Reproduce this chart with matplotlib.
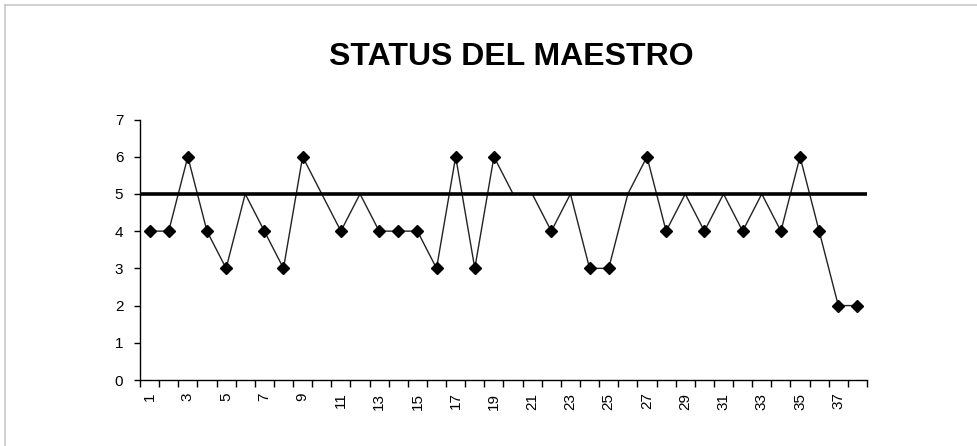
import matplotlib
matplotlib.use("Agg")
import matplotlib.pyplot as plt
from matplotlib.lines import Line2D

plt.rcParams['font.family'] = ['Liberation Sans', 'DejaVu Sans']

# Observation number and teacher status score
sessions = list(range(1, 39))
status = [4, 4, 6, 4, 3, 5, 4, 3, 6, 5, 4, 5, 4, 4, 4, 3, 6, 3, 6, 5,
          5, 4, 5, 3, 3, 5, 6, 4, 5, 4, 5, 4, 5, 4, 6, 4, 2, 2]
reference_level = 5
y_ticks = [0, 1, 2, 3, 4, 5, 6, 7]
x_tick_labels = [str(s) for s in sessions if s % 2 == 1]
title = "STATUS DEL MAESTRO"

fig = plt.figure(figsize=(9.77, 4.46), dpi=100)
fig.patch.set_facecolor('white')

# thin grey frame along the top and left edges of the chart area
fig.add_artist(Line2D([4.5 / 977, 1.0], [1 - 5 / 446, 1 - 5 / 446],
                      transform=fig.transFigure, color='#c8c8c8', lw=1.2))
fig.add_artist(Line2D([4.5 / 977, 4.5 / 977], [0.0, 1 - 5 / 446],
                      transform=fig.transFigure, color='#c8c8c8', lw=1.2))

ax = fig.add_axes([140 / 977, 1 - 380 / 446, (867 - 140) / 977, (380 - 119.5) / 446])

# markers are shown only for points off the reference level
marked = [i for i, v in enumerate(status) if v != reference_level]
ax.plot(sessions, status, color='#222222', lw=1.0, marker='D', markersize=5.8,
        markerfacecolor='black', markeredgecolor='black', markevery=marked, zorder=3)

ax.plot([0.5, len(sessions) + 0.5], [reference_level, reference_level],
        color='black', lw=2.6, solid_capstyle='butt', zorder=4)

ax.set_xlim(0.5, len(sessions) + 0.5)
ax.set_ylim(0, 7)

# category boundary ticks, with labels on every other category
ax.set_xticks([s - 0.5 for s in sessions] + [len(sessions) + 0.5])
ax.set_xticklabels([])
ax.set_xticks([s for s in sessions if s % 2 == 1], minor=True)
ax.set_xticklabels(x_tick_labels, minor=True, rotation=90, fontsize=11)
ax.tick_params(axis='x', which='major', direction='out', length=5, width=1, color='black')
ax.tick_params(axis='x', which='minor', length=0, pad=9)

ax.set_yticks(y_ticks)
ax.set_yticklabels([str(v) for v in y_ticks], fontsize=11)
ax.tick_params(axis='y', direction='out', length=4, width=1, color='black', pad=8)

for side in ('top', 'right'):
    ax.spines[side].set_visible(False)
for side in ('left', 'bottom'):
    ax.spines[side].set_color('black')
    ax.spines[side].set_linewidth(1.0)

fig.text(511.5 / 977, 1 - 65 / 446, title, ha='center', va='baseline',
         fontsize=23, fontweight='bold', color='black')

fig.savefig('out.png', dpi=100, facecolor='white')
